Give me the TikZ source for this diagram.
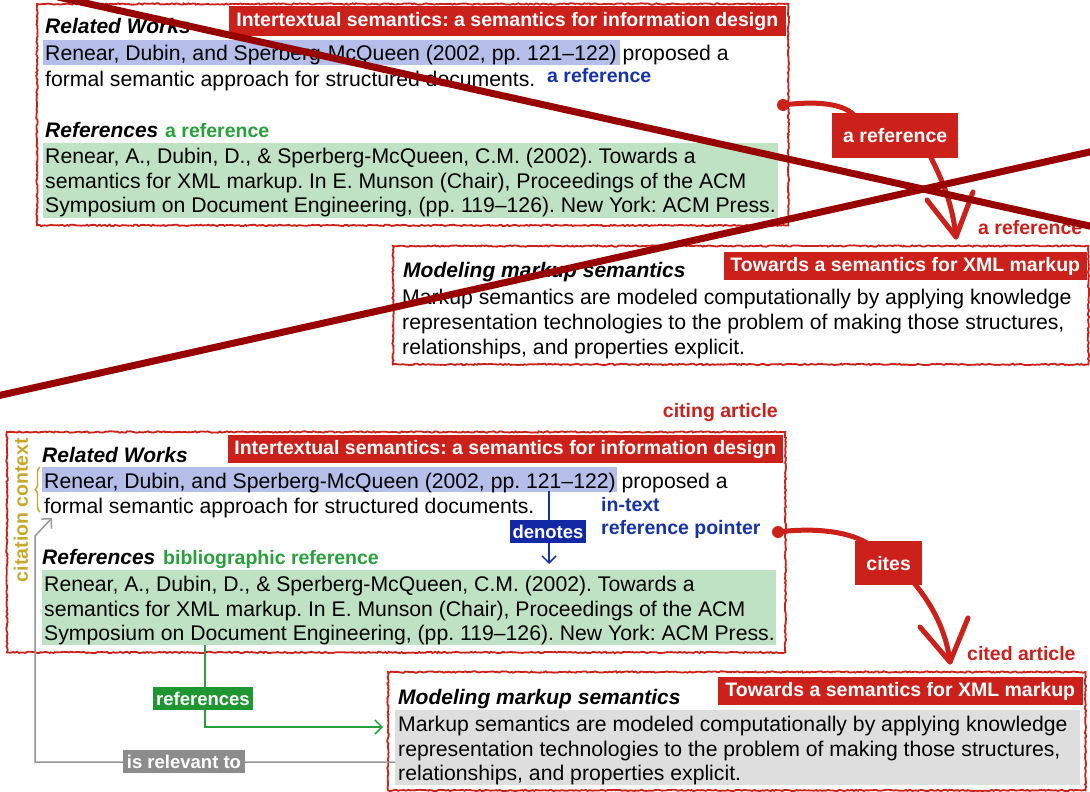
\documentclass[tikz,border=0pt]{standalone}
\usepackage{fontspec}
\setmainfont{Liberation Sans}
\usetikzlibrary{decorations.pathmorphing,decorations.pathreplacing,arrows.meta,calc}
\definecolor{tred}{RGB}{204,32,26}
\definecolor{sred}{RGB}{152,0,0}
\definecolor{hblue}{RGB}{180,190,232}
\definecolor{hgreen}{RGB}{192,226,196}
\definecolor{hgray}{RGB}{222,222,222}
\definecolor{tblue}{RGB}{22,50,170}
\definecolor{dblue}{RGB}{18,40,165}
\definecolor{tgreen}{RGB}{40,160,60}
\definecolor{bgreen}{RGB}{30,150,50}
\definecolor{olive}{RGB}{200,168,40}
\definecolor{cgray}{RGB}{150,150,150}
\definecolor{bgray}{RGB}{140,140,140}
\frenchspacing
\tikzset{
 body/.style={anchor=base west, inner sep=0pt, font=\fontsize{21.2}{25}\selectfont},
 head/.style={anchor=base west, inner sep=0pt, font=\fontsize{21}{25}\selectfont\bfseries\itshape},
 lab/.style={inner sep=0pt, font=\fontsize{19.5}{22}\selectfont\bfseries},
 titlebox/.style={fill=tred, text=white, inner sep=0pt, font=\fontsize{19.5}{22}\selectfont\bfseries, minimum height=27pt, anchor=north east},
 rough/.style={draw=tred, line width=1.8pt, decorate, decoration={random steps, segment length=2pt, amplitude=0.7pt}},
 hl/.style={anchor=north west, inner sep=0pt, minimum height=25pt},
 panel/.style={anchor=north west, inner sep=0pt},
 brush/.style={draw=tred, line width=5pt, line cap=round, line join=round},
 strike/.style={draw=sred, line width=7pt},
 tagbox/.style={text=white, inner sep=0pt, font=\fontsize{19.5}{22}\selectfont\bfseries},
 smalltag/.style={text=white, inner sep=0pt, font=\fontsize{18.5}{22}\selectfont\bfseries},
 thinarrow/.style={line width=1.5pt, -{Straight Barb[length=7pt,width=14pt]}},
}
\begin{document}
\frenchspacing
\begin{tikzpicture}[x=1pt,y=-1pt]
\pgfmathsetseed{7}
\useasboundingbox (0,0) rectangle (1090,792);
\fill[white] (0,0) rectangle (1090,792);

% ================= top (crossed out) =================
\node[panel, minimum width=751pt, minimum height=221pt] (P1) at (37,4) {};
\node[hl, fill=hblue, minimum width=577pt] (HB1) at (43,40) {};
\node[hl, fill=hgreen, minimum width=735pt, minimum height=75pt] (HG1) at (43,143) {};
\draw[rough] (P1.north west) rectangle (P1.south east);
\node[titlebox, minimum width=557pt, minimum height=30pt] (T1) at (786,6) {Intertextual semantics: a semantics for information design};
\node[head] (RW1) at (45,34) {Related Works};
\node[body] (L11) at (45,61) {Renear, Dubin, and Sperberg-McQueen (2002, pp. 121–122) proposed a};
\node[body] (L12) at (45,86) {formal semantic approach for structured documents.};
\node[lab, text=tblue, anchor=base west] (AR1) at (547,83) {a reference};
\node[head] (RF1) at (45,137) {References};
\node[lab, text=tgreen, anchor=base west] (AR2) at (165,137) {a reference};
\node[body] (L13) at (45,163) {Renear, A., Dubin, D., \& Sperberg-McQueen, C.M. (2002). Towards a};
\node[body] (L14) at (45,188) {semantics for XML markup. In E. Munson (Chair), Proceedings of the ACM};
\node[body] (L15) at (45,212) {Symposium on Document Engineering, (pp. 119–126). New York: ACM Press.};

\node[panel, minimum width=695pt, minimum height=118pt] (P2) at (393,246) {};
\draw[rough] (P2.north west) rectangle (P2.south east);
\node[titlebox, minimum width=363pt, minimum height=28pt] (T2) at (1087,252) {Towards a semantics for XML markup};
\node[head] (MM1) at (403,277) {Modeling markup semantics};
\node[body] (M11) at (402,304) {Markup semantics are modeled computationally by applying knowledge};
\node[body] (M12) at (402,329) {representation technologies to the problem of making those structures,};
\node[body] (M13) at (402,354) {relationships, and properties explicit.};

\node[tagbox, fill=tred, minimum width=126pt, minimum height=45pt, anchor=north west] (AR3) at (832,113) {a reference};
\coordinate (s1) at (783,105);
\coordinate (tip1) at (956,237);
\fill[tred] (s1) circle (6pt);
\draw[brush] (s1) .. controls (815,101) and (842,103) .. ($(AR3.north west)+(22,2)$);
\draw[brush] ($(AR3.south east)+(-28,-2)$) .. controls (940,176) and (952,200) .. (tip1);
\draw[brush] (927,200) -- (tip1) -- (973,192);
\node[lab, text=tred, anchor=base west] (AR4) at (978,234) {a reference};

\coordinate (x1a) at (58,-3);
\coordinate (x1b) at (1094,227);
\coordinate (x2a) at (-3,396);
\coordinate (x2b) at (1094,151);
\draw[strike] (x1a) -- (x1b);
\draw[strike] (x2a) -- (x2b);

% ================= bottom =================
\node[lab, text=tred, anchor=base east] (CA) at (778,417) {citing article};
\node[panel, minimum width=778pt, minimum height=220pt] (P3) at (7,432) {};
\node[hl, fill=hblue, minimum width=575pt] (HB2) at (42,467) {};
\node[hl, fill=hgreen, minimum width=734pt, minimum height=75pt] (HG2) at (42,570) {};
\draw[rough] (P3.north west) rectangle (P3.south east);
\node[titlebox, minimum width=555pt, minimum height=28pt] (T3) at (783,435) {Intertextual semantics: a semantics for information design};
\node[head] (RW2) at (42,462) {Related Works};
\node[body] (L21) at (44,488) {Renear, Dubin, and Sperberg-McQueen (2002, pp. 121–122) proposed a};
\node[body] (L22) at (44,513) {formal semantic approach for structured documents.};
\node[lab, text=tblue, anchor=base west] (IT1) at (601,511) {in-text};
\node[lab, text=tblue, anchor=base west] (IT2) at (601,534) {reference pointer};
\node[head] (RF2) at (42,564) {References};
\node[lab, text=tgreen, anchor=base west] (BR) at (163,564) {bibliographic reference};
\node[body] (L23) at (44,591) {Renear, A., Dubin, D., \& Sperberg-McQueen, C.M. (2002). Towards a};
\node[body] (L24) at (44,616) {semantics for XML markup. In E. Munson (Chair), Proceedings of the ACM};
\node[body] (L25) at (44,640) {Symposium on Document Engineering, (pp. 119–126). New York: ACM Press.};

\node[lab, text=olive, rotate=90] (CC) at (21,510) {citation context};
\draw[olive, line width=1.4pt, decorate, decoration={brace, amplitude=5pt}] (40,512) -- (40,467);

% denotes
\coordinate (d0) at (549,491);
\coordinate (d1) at (549,564);
\draw[tblue, thinarrow] (d0) -- (d1);
\node[smalltag, fill=dblue, minimum width=76pt, minimum height=23pt] (DN) at (548,531.5) {denotes};

% bottom cited panel
\node[panel, minimum width=697pt, minimum height=118pt] (P4) at (388,672) {};
\node[hl, fill=hgray, minimum width=685pt, minimum height=75pt] (HG3) at (395,710) {};
\draw[rough] (P4.north west) rectangle (P4.south east);
\node[titlebox, minimum width=365pt, minimum height=28pt] (T4) at (1083,677) {Towards a semantics for XML markup};
\node[head] (MM2) at (398,704) {Modeling markup semantics};
\node[body] (M21) at (398,731) {Markup semantics are modeled computationally by applying knowledge};
\node[body] (M22) at (398,756) {representation technologies to the problem of making those structures,};
\node[body] (M23) at (398,780) {relationships, and properties explicit.};

% cites
\node[tagbox, fill=tred, minimum width=67pt, minimum height=44pt, anchor=north west] (CT) at (855,541) {cites};
\coordinate (s2) at (778,532);
\coordinate (tip2) at (950,662);
\fill[tred] (s2) circle (6pt);
\draw[brush] (s2) .. controls (810,528) and (845,530) .. ($(CT.north west)+(12,2)$);
\draw[brush] ($(CT.south east)+(-8,-2)$) .. controls (932,605) and (946,630) .. (tip2);
\draw[brush] (920,627) -- (tip2) -- (968,618);
\node[lab, text=tred, anchor=base west] (CD) at (967,660) {cited article};

% references (green)
\coordinate (g0) at ($(HG2.south west)+(163,0)$);
\coordinate (g1) at (383,727);
\draw[tgreen, thinarrow] (g0) |- (g1);
\node[smalltag, fill=bgreen, minimum width=100pt, minimum height=23pt] (RFS) at (203,698.5) {references};

% is relevant to (gray)
\coordinate (r0) at (395,762);
\coordinate (r1) at (35,762);
\coordinate (r2) at (35,536);
\coordinate (r3) at (52,518);
\draw[cgray, thinarrow] (r0) -- (r1) -- (r2) -- (r3);
\node[smalltag, fill=bgray, minimum width=122pt, minimum height=23pt] (IR) at (184,761.5) {is relevant to};
\end{tikzpicture}
\end{document}
